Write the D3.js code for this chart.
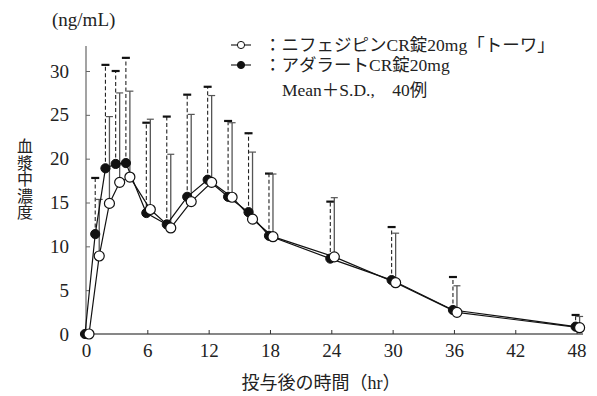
<!DOCTYPE html>
<html><head><meta charset="utf-8">
<script src="https://cdn.jsdelivr.net/npm/d3@7"></script>
<style>body{margin:0;background:#fff}svg{display:block}</style>
</head><body>
<svg id="c" width="597" height="396"></svg>
<script>
const times = [0,1,2,3,4,6,8,10,12,14,16,18,24,30,36,48];
const nifeMean = [0,8.9,14.9,17.3,17.9,14.2,12.1,15.1,17.3,15.6,13.1,11.1,8.8,5.85,2.47,0.72];
const nifeSD   = [0,6.45,9.9,10.2,9.8,10.3,8.4,9.95,9.9,8.5,7.65,7.15,6.75,5.65,3.03,1.28];
const adaMean  = [0,11.4,18.9,19.4,19.5,13.8,12.5,15.65,17.6,15.65,13.9,11.2,8.6,6.15,2.74,0.84];
const adaSD    = [0,6.4,11.8,10.6,12.0,10.3,12.3,11.65,10.6,8.65,9.0,7.1,6.5,6.05,3.76,1.33];
const xTicks = [0,6,12,18,24,30,36,42,48];
const yTicks = [0,5,10,15,20,25,30];
const legendLabels = ["：ニフェジピンCR錠20mg「トーワ」","：アダラートCR錠20mg","Mean＋S.D.,　40例"];
const yUnit = "(ng/mL)";
const yTitle = "血漿中濃度";
const xTitle = "投与後の時間（hr）";

const FONT = "'Liberation Serif','Times New Roman','DejaVu Serif','Noto Sans CJK JP',serif";
const svg = d3.select("#c");
const x = d3.scaleLinear().domain([0,48]).range([86,576.6]);
const y = d3.scaleLinear().domain([0,30]).range([334,71]);

// axes
svg.append("line").attr("x1",86).attr("x2",86).attr("y1",334).attr("y2",46).attr("stroke","#666").attr("stroke-width",1.2);
svg.append("line").attr("x1",86).attr("x2",583).attr("y1",334).attr("y2",334).attr("stroke","#111").attr("stroke-width",1.2);
const xa = svg.append("g").attr("transform","translate(0,334)")
  .call(d3.axisBottom(x).tickValues(xTicks).tickSize(-4).tickPadding(10));
xa.attr("font-family",null);
xa.select(".domain").remove();
xa.selectAll("line").attr("stroke","#333");
xa.selectAll("text").style("font-family",FONT).style("font-size","19px").attr("fill","#222").attr("dy","0.71em");
const ya = svg.append("g").attr("transform","translate(86,0)")
  .call(d3.axisLeft(y).tickValues(yTicks).tickSize(-4).tickPadding(17));
ya.attr("font-family",null);
ya.select(".domain").remove();
ya.selectAll("line").attr("stroke","#666");
ya.selectAll("text").style("font-family",FONT).style("font-size","19px").attr("fill","#222");

// titles
svg.append("text").attr("x",52).attr("y",26).style("font-family",FONT).style("font-size","19px").attr("fill","#222").text(yUnit);
const yt = svg.append("text").style("font-family",FONT).style("font-size","16px").attr("fill","#222").attr("text-anchor","middle");
yTitle.split("").forEach((ch,i)=>yt.append("tspan").attr("x",25).attr("y",152+i*16.5).text(ch));
svg.append("text").attr("x",321).attr("y",389).attr("text-anchor","middle").style("font-family",FONT).style("font-size","18px").attr("fill","#222").text(xTitle);

const OB = -1, OW = 3;
const ada = times.map((t,i)=>({t,m:adaMean[i],sd:adaSD[i]}));
const nife = times.map((t,i)=>({t,m:nifeMean[i],sd:nifeSD[i]}));

// error bars
const eb = svg.append("g");
ada.filter(d=>d.sd>0).forEach(d=>{
  const cx = x(d.t)+OB;
  eb.append("line").attr("x1",cx).attr("x2",cx).attr("y1",y(d.m)).attr("y2",y(d.m+d.sd))
    .attr("stroke","#222").attr("stroke-width",1.1).attr("stroke-dasharray","4,2.5");
  eb.append("line").attr("x1",cx-4).attr("x2",cx+4).attr("y1",y(d.m+d.sd)).attr("y2",y(d.m+d.sd))
    .attr("stroke","#111").attr("stroke-width",2.2);
});
nife.filter(d=>d.sd>0).forEach(d=>{
  const cx = x(d.t)+OW;
  eb.append("line").attr("x1",cx).attr("x2",cx).attr("y1",y(d.m)).attr("y2",y(d.m+d.sd))
    .attr("stroke","#555").attr("stroke-width",1.3);
  eb.append("line").attr("x1",cx-3.5).attr("x2",cx+3.5).attr("y1",y(d.m+d.sd)).attr("y2",y(d.m+d.sd))
    .attr("stroke","#555").attr("stroke-width",1.2);
});

// lines
svg.append("path").datum(ada).attr("fill","none").attr("stroke","#111").attr("stroke-width",1.2)
  .attr("d",d3.line().x(d=>x(d.t)+OB).y(d=>y(d.m)));
svg.append("path").datum(nife).attr("fill","none").attr("stroke","#111").attr("stroke-width",1.2)
  .attr("d",d3.line().x(d=>x(d.t)+OW).y(d=>y(d.m)));

// points
svg.append("g").selectAll("circle").data(ada).join("circle")
  .attr("cx",d=>x(d.t)+OB).attr("cy",d=>y(d.m)).attr("r",4.6).attr("fill","#111").attr("stroke","#111");
svg.append("g").selectAll("circle").data(nife).join("circle")
  .attr("cx",d=>x(d.t)+OW).attr("cy",d=>y(d.m)).attr("r",5).attr("fill","#fff").attr("stroke","#111").attr("stroke-width",1.2);

// legend
const lg = svg.append("g");
[0,1].forEach(i=>{
  const ly = 45+i*20;
  lg.append("line").attr("x1",231).attr("x2",251).attr("y1",ly).attr("y2",ly).attr("stroke","#111").attr("stroke-width",1.1);
  lg.append("circle").attr("cx",241).attr("cy",ly).attr("r",3.6)
    .attr("fill",i===0?"#fff":"#111").attr("stroke","#111").attr("stroke-width",1);
  lg.append("text").attr("x",264).attr("y",ly+6).style("font-family",FONT).style("font-size","17.5px").attr("fill","#222").text(legendLabels[i]);
});
lg.append("text").attr("x",282).attr("y",96).style("font-family",FONT).style("font-size","17.5px").attr("fill","#222").text(legendLabels[2]);
</script>
</body></html>
